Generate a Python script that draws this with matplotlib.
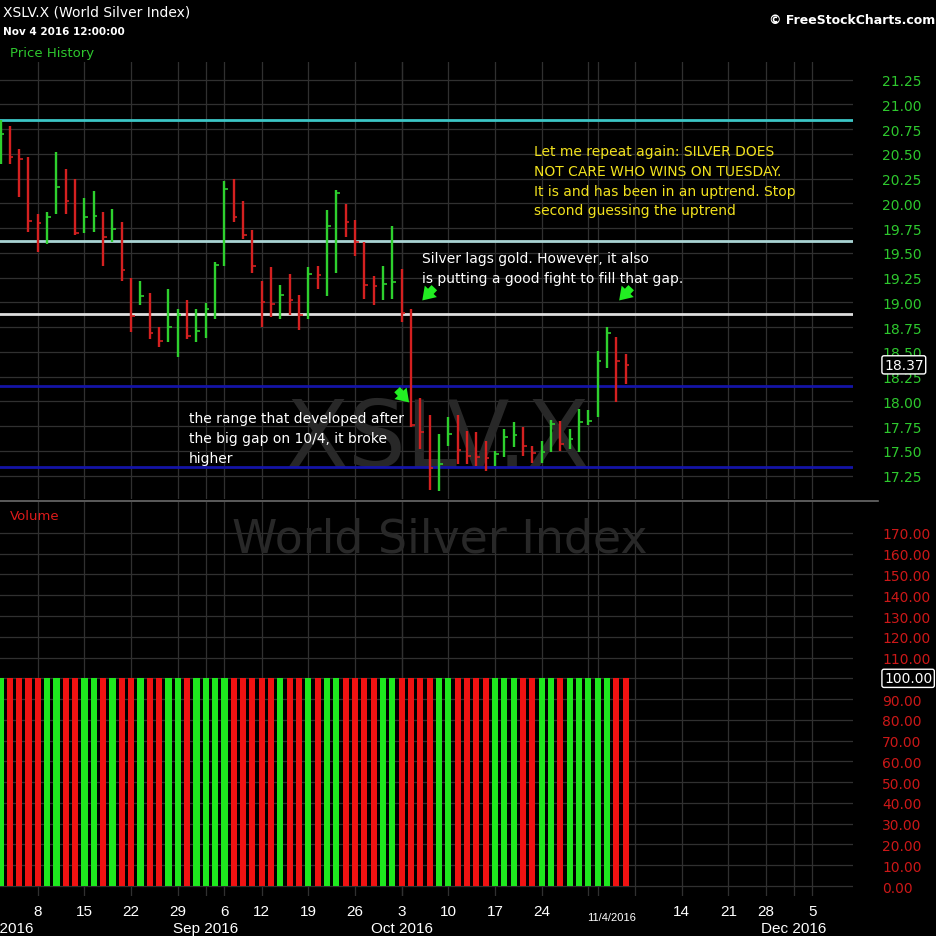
import numpy as np
import pandas as pd
import matplotlib
matplotlib.use("Agg")
import matplotlib.pyplot as plt
from matplotlib import transforms

# trading calendar (Labor Day and Thanksgiving closed)
holidays = ["2016-09-05", "2016-11-24"]
days = pd.bdate_range("2016-08-01", "2016-12-09")
days = days[~days.isin(pd.to_datetime(holidays))]

first_bar = "2016-08-02"
highs = [20.84, 20.78, 20.55, 20.47, 19.89, 19.91, 20.52, 20.35, 20.25, 20.06,
         20.13, 19.91, 19.94, 19.81, 19.25, 19.22, 19.10, 18.75, 19.14, 18.93,
         19.03, 18.93, 18.99, 19.41, 20.23, 20.25, 20.03, 19.73, 19.22, 19.36,
         19.18, 19.29, 19.08, 19.36, 19.37, 19.93, 20.14, 19.99, 19.83, 19.61,
         19.27, 19.37, 19.77, 19.34, 18.93, 18.04, 17.86, 17.67, 17.84, 17.86,
         17.70, 17.69, 17.60, 17.50, 17.72, 17.79, 17.74, 17.55, 17.60, 17.81,
         17.80, 17.72, 17.92, 17.91, 18.51, 18.75, 18.65, 18.48]
lows = [20.40, 20.40, 20.07, 19.71, 19.51, 19.59, 19.89, 19.89, 19.68, 19.70,
        19.71, 19.37, 19.61, 19.22, 18.70, 18.97, 18.63, 18.55, 18.60, 18.45,
        18.63, 18.60, 18.64, 18.83, 19.37, 19.81, 19.64, 19.30, 18.75, 18.85,
        18.83, 18.87, 18.72, 18.83, 19.14, 19.07, 19.30, 19.66, 19.47, 19.04,
        18.97, 19.03, 19.04, 18.80, 17.74, 17.52, 17.11, 17.10, 17.55, 17.37,
        17.37, 17.35, 17.30, 17.35, 17.44, 17.54, 17.45, 17.38, 17.38, 17.49,
        17.50, 17.52, 17.49, 17.76, 17.84, 18.34, 17.99, 18.18]
closes = [20.70, 20.47, 20.45, 19.82, 19.80, 19.86, 20.17, 20.02, 19.70, 19.86,
          19.87, 19.66, 19.74, 19.33, 18.86, 19.07, 18.69, 18.61, 18.75, 18.87,
          18.66, 18.71, 18.93, 19.38, 20.15, 19.86, 19.68, 19.37, 19.00, 18.98,
          19.08, 19.03, 18.87, 19.29, 19.28, 19.77, 20.11, 19.81, 19.61, 19.18,
          19.17, 19.19, 19.21, 18.89, 17.76, 17.69, 17.33, 17.37, 17.67, 17.51,
          17.45, 17.44, 17.43, 17.47, 17.64, 17.66, 17.55, 17.48, 17.49, 17.77,
          17.57, 17.62, 17.79, 17.80, 18.41, 18.69, 18.41, 18.37]
volume = [100] * 68

levels = [20.84, 19.62, 18.88, 18.16, 17.34]
level_colors = ["#3cc6c6", "#a9d3d3", "#dedede", "#1414a6", "#1414a6"]

price_ticks = [17.25, 17.50, 17.75, 18.00, 18.25, 18.50, 18.75, 19.00, 19.25,
               19.50, 19.75, 20.00, 20.25, 20.50, 20.75, 21.00, 21.25]
vol_ticks = [0, 10, 20, 30, 40, 50, 60, 70, 80, 90, 100, 110, 120, 130, 140,
             150, 160, 170]
last_price = 18.37
last_volume = 100.0
hidden_weeks = ["2016-10-31", "2016-11-07"]
hidden_months = ["2016-11"]

UP = "#2ed02e"
DOWN = "#d42020"
VUP = "#1ee81e"
VDOWN = "#f01212"
GRID = "#303030"

pos = pd.Series(np.arange(len(days)), index=days)
x0 = pos[first_bar]
xs = np.arange(x0, x0 + len(closes))
prev = np.r_[closes[0] - 1, closes[:-1]]
up = np.array(closes) > prev
pcol = np.where(up, UP, DOWN)
vcol = np.where(up, VUP, VDOWN)

week_first = pos.groupby(days.to_period("W")).first()
month_first = pos.groupby(days.to_period("M")).first()

W, H = 937, 937
fig = plt.figure(figsize=(W / 100, H / 100), dpi=100, facecolor="black")


def px(x, y):
    return x / W, 1 - y / H


ax = fig.add_axes([0, 1 - 500 / H, 853 / W, 437 / H], facecolor="black")
axv = fig.add_axes([0, 1 - 897 / H, 853 / W, 394 / H], facecolor="black")

xlim = (0.946, 92.37)
for a in (ax, axv):
    a.set_xlim(*xlim)
    for s in a.spines.values():
        s.set_visible(False)
    a.set_xticks([])
    for v in list(week_first.values) + list(month_first.values):
        a.axvline(v, color=GRID, lw=0.9, zorder=0.2)
    a.yaxis.tick_right()
    a.tick_params(axis="y", length=0, pad=21)

ax.set_ylim(17.015, 21.429)
axv.set_ylim(-4.8, 184.9)

# price panel
for t in price_ticks:
    ax.axhline(t, color=GRID, lw=0.9, zorder=0.2)
ax.set_yticks(price_ticks)
ax.set_yticklabels(["%.2f" % t for t in price_ticks], color="#2ec82e",
                   fontsize=10)
ax.text(0.513, 0.135, "XSLV.X", transform=ax.transAxes, ha="center",
        va="center", fontsize=66, color="#282828", zorder=0.5)
for lv, c in zip(levels, level_colors):
    ax.axhline(lv, color=c, lw=2.0, zorder=1)
ax.vlines(xs, lows, highs, colors=pcol, lw=1.7, zorder=3)
ax.hlines(closes, xs, xs + 0.38, colors=pcol, lw=1.2, zorder=3)

blend = transforms.blended_transform_factory(ax.transAxes, ax.transData)
ax.text(1 + 31 / 853, last_price, "%.2f" % last_price, transform=blend,
        va="center", ha="left", fontsize=10, color="white", zorder=5,
        bbox=dict(boxstyle="round,pad=0.15", fc="black", ec="white", lw=1))

green = "#22ee22"
arrow = dict(arrowstyle="simple,head_width=1.2,head_length=0.9,tail_width=0.55",
             color=green, lw=0)
ax.annotate("", xy=(46.0, 19.00), xytext=(47.7, 19.17), arrowprops=arrow)
ax.annotate("", xy=(67.1, 19.00), xytext=(68.8, 19.17), arrowprops=arrow)
ax.annotate("", xy=(45.0, 17.97), xytext=(43.3, 18.14), arrowprops=arrow)

# volume panel
for t in vol_ticks:
    axv.axhline(t, color=GRID, lw=0.9, zorder=0.2)
axv.set_yticks(vol_ticks)
axv.set_yticklabels(["%.2f" % t for t in vol_ticks], color="#cc1818",
                    fontsize=10)
axv.text(0.516, 0.905, "World Silver Index", transform=axv.transAxes,
         ha="center", va="center", fontsize=33, color="#282828", zorder=0.5)
axv.bar(xs, volume, width=0.66, color=vcol, zorder=3)
blendv = transforms.blended_transform_factory(axv.transAxes, axv.transData)
axv.text(1 + 31 / 853, last_volume, "%.2f" % last_volume, transform=blendv,
         va="center", ha="left", fontsize=10, color="white", zorder=5,
         bbox=dict(boxstyle="round,pad=0.15", fc="black", ec="white", lw=1))

# panel separator
fig.add_artist(plt.Line2D([0, 878 / W], [1 - 502 / H] * 2, color="#6a6a6a",
                          lw=1.2))

# date axis
xt = axv.get_xaxis_transform()
for i in week_first.values:
    first = days[i]
    if str(first.date()) in hidden_weeks or i < xlim[0]:
        continue
    axv.text(i, -0.038, str(first.day), transform=xt, ha="center",
             va="center", color="white", fontsize=11,
             family="Liberation Sans", clip_on=False)
for m, i in zip(month_first.index, month_first.values):
    if str(m) in hidden_months:
        continue
    axv.text(max(i, x0), -0.081, days[i].strftime("%b %Y"), transform=xt,
             ha="center", va="center", color="white", fontsize=11,
             family="Liberation Sans", clip_on=False)
axv.text(x0 + len(closes) - 2.5, -0.053, "11/4/2016", transform=xt,
         ha="center", va="center", color="white", fontsize=8,
         family="Liberation Sans", clip_on=False)

# headers
fig.text(*px(3, 12), "XSLV.X (World Silver Index)", color="white",
         fontsize=10, va="center")
fig.text(*px(3, 32), "Nov 4 2016 12:00:00", color="white", fontsize=7.5,
         va="center", weight="bold")
fig.text(*px(10, 53), "Price History", color="#2ec82e", fontsize=9.5,
         va="center")
fig.text(*px(10, 516), "Volume", color="#dd1a1a", fontsize=9.5, va="center")
fig.text(*px(935, 20), "\u00a9 FreeStockCharts.com", color="white",
         fontsize=9, va="center", ha="right", weight="bold")

# comments
note_kw = dict(fontsize=10, va="top", linespacing=1.53)
fig.text(*px(534, 145), "Let me repeat again: SILVER DOES\n"
         "NOT CARE WHO WINS ON TUESDAY.\n"
         "It is and has been in an uptrend. Stop\n"
         "second guessing the uptrend", color="#f2e21e", **note_kw)
fig.text(*px(422, 252), "Silver lags gold. However, it also\n"
         "is putting a good fight to fill that gap.", color="white",
         **note_kw)
fig.text(*px(189, 412), "the range that developed after\n"
         "the big gap on 10/4, it broke\nhigher", color="white", **note_kw)

fig.savefig("out.png", dpi=100, facecolor="black")
